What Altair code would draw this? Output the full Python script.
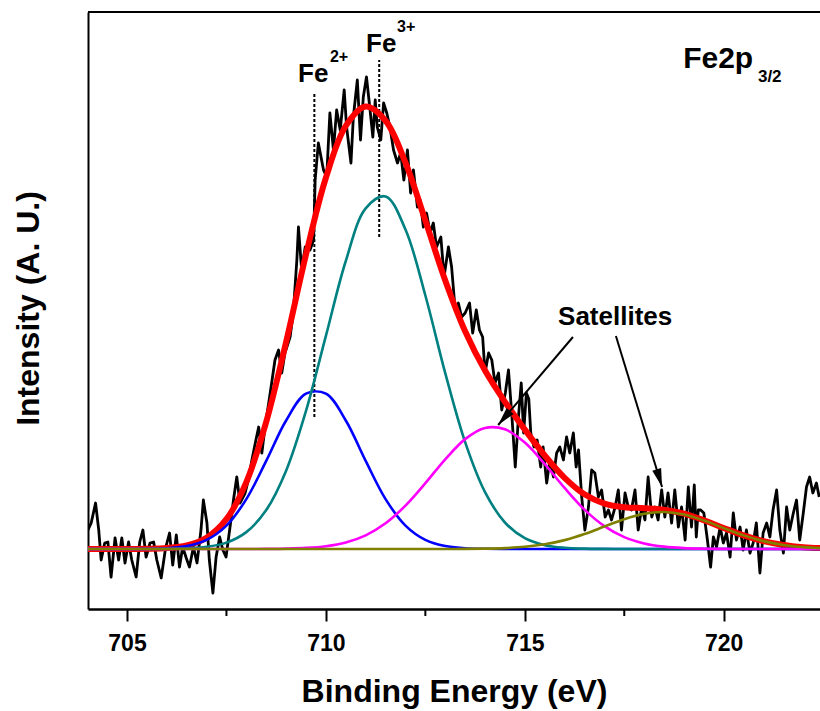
import altair as alt
import pandas as pd

# ---- measured Fe2p3/2 spectrum (binding energy in eV, intensity in a.u.) ----
raw_energy = [
    704.02, 704.10, 704.21, 704.29, 704.35, 704.44, 704.52, 704.60, 704.70, 704.79,
    704.87, 704.95, 705.04, 705.12, 705.23, 705.32, 705.40, 705.48, 705.58, 705.67,
    705.75, 705.86, 705.97, 706.07, 706.15, 706.24, 706.32, 706.40, 706.49, 706.57,
    706.67, 706.76, 706.86, 706.92, 707.01, 707.07, 707.16, 707.24, 707.33, 707.41,
    707.49, 707.59, 707.68,
    707.76, 707.84, 707.97, 708.05, 708.14, 708.22, 708.31, 708.39, 708.47, 708.60,
    708.72, 708.81, 708.89, 708.97, 709.10, 709.18, 709.27, 709.31, 709.39, 709.48,
    709.60, 709.69, 709.73, 709.81,
    709.94, 710.02, 710.10, 710.19, 710.27, 710.36, 710.46, 710.52, 710.63, 710.69,
    710.79, 710.87, 710.94, 711.02, 711.11, 711.18, 711.24, 711.29, 711.38, 711.45,
    711.53, 711.61, 711.70, 711.80, 711.88, 711.96, 712.05, 712.13, 712.20, 712.30,
    712.37, 712.45, 712.53, 712.62, 712.70, 712.78,
    712.89, 712.97, 713.08, 713.16, 713.25, 713.33, 713.41, 713.50, 713.61, 713.69,
    713.78, 713.86, 713.94, 714.00, 714.09, 714.17, 714.25, 714.34, 714.42, 714.51,
    714.59, 714.67, 714.76, 714.84, 714.91, 714.97, 715.04, 715.10, 715.15, 715.23,
    715.31, 715.40, 715.46, 715.55, 715.63, 715.72, 715.80, 715.88, 715.97, 716.05,
    716.13, 716.22,
    716.29, 716.35, 716.43, 716.51, 716.60, 716.68, 716.76, 716.85, 716.93, 717.02,
    717.10, 717.18, 717.27, 717.35, 717.43, 717.52, 717.60, 717.68, 717.77, 717.85,
    717.94, 718.02, 718.10, 718.19, 718.27, 718.35, 718.44, 718.52, 718.60, 718.69,
    718.77, 718.86, 718.94, 719.03, 719.11,
    719.19, 719.26, 719.31, 719.36, 719.42, 719.50, 719.59, 719.67, 719.74, 719.82,
    719.91, 719.99, 720.07, 720.16, 720.24, 720.32, 720.41, 720.49, 720.57, 720.66,
    720.74, 720.82, 720.91, 720.99, 721.08, 721.16, 721.24, 721.33, 721.41, 721.50,
    721.58, 721.66, 721.75, 721.83, 721.91, 722.00, 722.08, 722.16, 722.24, 722.33,
    722.40,
]
raw_intensity = [
    19, 26, 46, 19, -11, 6, 7, -28, 11, -11,
    11, -14, 7, -11, -28, 7, 19, -8, 6, 7,
    -11, -29, 1, 16, -16, 14, -18, 2, -9, -18,
    2, -14, 19, 49, 26, -11, -44, -8, 12, -1,
    -8, 22, 50,
    72, 46, 56, 69, 89, 105, 122, 96, 122, 156,
    189, 199, 176, 196, 212, 236, 289, 322, 279, 302,
    299, 309, 369, 406,
    379, 372, 436, 399, 439, 419, 459, 422, 386, 432,
    469, 409, 452, 472, 439, 412, 449, 422, 409, 446,
    436, 422, 399, 386, 396, 369, 399, 356, 379, 342,
    349, 322, 336, 316, 326, 302,
    312, 272, 302, 282, 239, 246, 232, 236, 246, 216,
    239, 219, 212, 176, 196, 189, 166, 176, 139, 156,
    179, 136, 82, 132, 166, 116, 156, 150, 116, 102,
    109, 82, 102, 66, 89, 72, 96, 102, 89, 112,
    96, 116,
    82, 99, 52, 19, 42, 79, 76, 52, 59, 32,
    39, 29, 42, 59, 19, 56, 42, 39, 59, 19,
    42, 29, 72, 32, 42, 29, 59, 32, 56, 26,
    59, 22, 42, 9, 62,
    22, 64, 12, 39, 39, 36, 9, -18, 12, 2,
    22, 6, 16, -8, 36, 9, 22, -1, 19, -4,
    6, 26, -24, 16, 26, 12, 39, 59, 19, -4,
    42, 19, 36, 49, 9, 36, 62, 72, 56, 66,
    52,
]

# ---- fitted components, every 0.5 eV ----
fit_energy = [
    704.0, 704.5, 705.0, 705.5, 706.0, 706.5, 707.0, 707.5, 708.0, 708.5,
    709.0, 709.5, 710.0, 710.5, 711.0, 711.5, 712.0, 712.5, 713.0, 713.5,
    714.0, 714.5, 715.0, 715.5, 716.0, 716.5, 717.0, 717.5, 718.0, 718.5,
    719.0, 719.5, 720.0, 720.5, 721.0, 721.5, 722.0, 722.5,
]
fe2_component = [
    0, 0, 0.03, 0.17, 0.8, 2.9, 9.1, 23.4, 49.9, 88.1,
    128.5, 155.3, 155.3, 128.5, 88.1, 49.9, 23.4, 9.1, 2.9, 0.8,
    0.2, 0.04, 0, 0, 0, 0, 0, 0, 0, 0,
    0, 0, 0, 0, 0, 0, 0, 0,
]
fe3_component = [
    0, 0, 0.01, 0.04, 0.16, 0.62, 2.1, 6.4, 16.9, 38.9,
    78.3, 138.1, 213.1, 288.0, 340.6, 352.6, 319.5, 253.5, 175.9, 106.9,
    56.9, 26.5, 10.8, 3.85, 1.2, 0.33, 0.08, 0.02, 0, 0,
    0, 0, 0, 0, 0, 0, 0, 0,
]
sat1_component = [
    0, 0, 0, 0, 0, 0, 0, 0, 0.03, 0.12,
    0.38, 1.09, 2.82, 6.55, 13.7, 25.7, 43.4, 65.8, 89.7, 109.9,
    121.0, 119.7, 106.4, 85.0, 61.1, 39.4, 22.9, 11.9, 5.6, 2.35,
    0.89, 0.30, 0.09, 0.02, 0, 0, 0, 0,
]
sat2_component = [
    0, 0, 0, 0, 0, 0, 0, 0, 0, 0,
    0, 0, 0, 0, 0, 0, 0, 0, 0.03, 0.11,
    0.33, 0.91, 2.18, 4.67, 8.88, 14.98, 22.44, 29.86, 35.26, 36.98,
    34.43, 28.47, 20.90, 13.62, 7.88, 4.05, 1.85, 0.75,
]

major_ticks = [705, 710, 715, 720]
minor_ticks = [707.5, 712.5, 717.5]

# ---- annotations (data coordinates) ----
peak_marks = pd.DataFrame({"e": [709.71, 711.34], "i": [132, 312], "i2": [457, 489]})
fe_labels = pd.DataFrame({"e": [709.30, 711.01], "i": [467, 497], "t": ["Fe", "Fe"]})
fe_sups = pd.DataFrame({"e": [710.10, 711.79], "i": [487, 517], "t": ["2+", "3+"]})
core_label = pd.DataFrame({"e": [718.98], "i": [481], "t": ["Fe2p"]})
core_sub = pd.DataFrame({"e": [720.86], "i": [467], "t": ["3/2"]})
sat_label = pd.DataFrame({"e": [717.27], "i": [224], "t": ["Satellites"]})
arrow_start_e = [716.21, 717.29]
arrow_start_i = [212, 213]
arrow_tip_e = [714.33, 718.45]
arrow_tip_i = [124, 62]
arrow_angle = [220.4, 163.1]

assert len(raw_energy) == len(raw_intensity)

raw = pd.DataFrame({"e": raw_energy, "i": raw_intensity})
envelope = [a + b + c + d for a, b, c, d in zip(fe2_component, fe3_component, sat1_component, sat2_component)]
fe2 = pd.DataFrame({"e": fit_energy, "i": fe2_component})
fe3 = pd.DataFrame({"e": fit_energy, "i": fe3_component})
sat1 = pd.DataFrame({"e": fit_energy, "i": sat1_component})
sat2 = pd.DataFrame({"e": fit_energy, "i": sat2_component})
env = pd.DataFrame({"e": fit_energy, "i": envelope})
arrows = pd.DataFrame({"e": arrow_start_e, "i": arrow_start_i, "e2": arrow_tip_e, "i2": arrow_tip_i})
tips = pd.DataFrame({"e": arrow_tip_e, "i": arrow_tip_i, "ang": arrow_angle})

FONT = "Liberation Sans"
W, H = 732, 597

xscale = alt.Scale(domain=[704.02, 722.42], nice=False, zero=False)
yscale = alt.Scale(domain=[-60, 537], nice=False, zero=False)
xaxis = alt.Axis(
    title="Binding Energy (eV)", values=major_ticks, format="d", grid=False,
    domainColor="black", domainWidth=2.5, tickColor="black", tickWidth=2, tickSize=12,
    labelFont=FONT, labelFontSize=23, labelFontWeight="bold", labelColor="black",
    labelBaseline="alphabetic", labelPadding=29, labelFlush=False,
    titleFont=FONT, titleFontSize=32, titleFontWeight="bold", titleColor="black",
    titleBaseline="alphabetic", titleY=92,
)
yaxis = alt.Axis(
    title="Intensity (A. U.)", labels=False, ticks=False, grid=False,
    domainColor="black", domainWidth=2,
    titleFont=FONT, titleFontSize=32, titleFontWeight="bold", titleColor="black",
    titleAngle=270, titleBaseline="alphabetic", titleAlign="center",
    titleX=-50, titleY=296,
)
X = alt.X("e:Q", scale=xscale, axis=xaxis)
Y = alt.Y("i:Q", scale=yscale, axis=yaxis)

def curve(df, color, width, interp):
    return alt.Chart(df).mark_line(
        color=color, strokeWidth=width, interpolate=interp, clip=True, strokeJoin="round"
    ).encode(x=X, y=Y)

raw_line = curve(raw, "black", 2.8, "linear")
env_line = curve(env, "#FF0000", 6, "catmull-rom")
fe2_line = curve(fe2, "#0000FF", 2.6, "catmull-rom")
fe3_line = curve(fe3, "#008080", 2.6, "catmull-rom")
sat1_line = curve(sat1, "#FF00FF", 2.6, "catmull-rom")
sat2_line = curve(sat2, "#808000", 2.6, "catmull-rom")

dashes = alt.Chart(peak_marks).mark_rule(color="black", strokeWidth=2, strokeDash=[3, 2]).encode(
    x=X, y=Y, y2="i2:Q"
)

arrow_lines = alt.Chart(arrows).mark_rule(color="black", strokeWidth=2).encode(
    x=X, y=Y, x2="e2:Q", y2="i2:Q"
)
arrow_heads = alt.Chart(tips).mark_point(
    shape="M0,0L-0.5,2L0.5,2Z", filled=True, color="black", opacity=1, size=340
).encode(x=X, y=Y, angle=alt.Angle("ang:Q", scale=None))

def label(df, size, align="left"):
    return alt.Chart(df).mark_text(
        font=FONT, fontWeight="bold", fontSize=size, color="black",
        align=align, baseline="alphabetic",
    ).encode(x=X, y=Y, text="t:N")

frame = pd.DataFrame({"a": [0]})
top_border = alt.Chart(frame).mark_rule(color="black", strokeWidth=2).encode(
    x=alt.value(0), x2=alt.value(W), y=alt.value(0)
)
minor = alt.Chart(pd.DataFrame({"e": minor_ticks})).mark_rule(color="black", strokeWidth=2).encode(
    x=X, y=alt.value(H), y2=alt.value(H + 7)
)

chart = alt.layer(
    raw_line, dashes, env_line, fe2_line, fe3_line, sat1_line, sat2_line,
    arrow_lines, arrow_heads,
    label(fe_labels, 26), label(fe_sups, 16), label(core_label, 30), label(core_sub, 17),
    label(sat_label, 26, "center"),
    top_border, minor,
).properties(
    width=W, height=H,
    autosize=alt.AutoSizeParams(type="none"),
    padding={"left": 88, "top": 12, "right": 0, "bottom": 102},
    background="white",
).configure_view(stroke=None)

chart.save("out.html", embed_options={"renderer": "svg", "actions": False})
